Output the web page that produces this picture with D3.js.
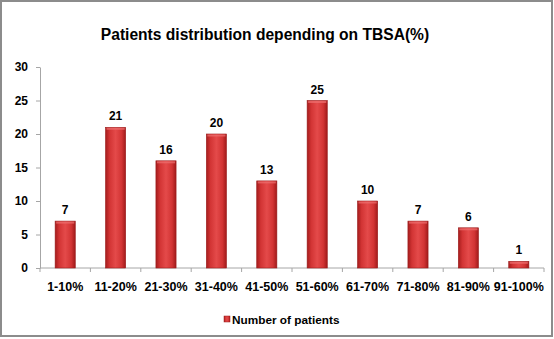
<!DOCTYPE html>
<html>
<head>
<meta charset="utf-8">
<script src="https://cdn.jsdelivr.net/npm/d3@7"></script>
<style>
  body { margin: 0; background: #fff; }
  svg { font-family: "Liberation Sans", Arial, sans-serif; }
  .axis text { font-weight: bold; font-size: 12.5px; fill: #000; }
  .axis path, .axis line { stroke: #a6a6a6; }
</style>
</head>
<body>
<svg id="chart" width="554" height="339"></svg>
<script>
// data
const categories = ["1-10%", "11-20%", "21-30%", "31-40%", "41-50%", "51-60%", "61-70%", "71-80%", "81-90%", "91-100%"];
const patients = [7, 21, 16, 20, 13, 25, 10, 7, 6, 1];
const yTicks = [0, 5, 10, 15, 20, 25, 30];
const seriesName = "Number of patients";
const chartTitle = "Patients distribution depending on TBSA(%)";

const svg = d3.select("#chart");
const W = 554, H = 339;
const margin = {top: 67, right: 10, bottom: 71, left: 40};

// outer frame
svg.append("rect")
  .attr("x", 1).attr("y", 1).attr("width", W - 3).attr("height", H - 4)
  .attr("fill", "#fff").attr("stroke", "#8c8c8c").attr("stroke-width", 2);

// gradient for the bars
const defs = svg.append("defs");
const grad = defs.append("linearGradient").attr("id", "barGrad")
  .attr("x1", "0%").attr("x2", "100%").attr("y1", "0%").attr("y2", "0%");
grad.append("stop").attr("offset", "0%").attr("stop-color", "#a51c1c");
grad.append("stop").attr("offset", "20%").attr("stop-color", "#d23434");
grad.append("stop").attr("offset", "50%").attr("stop-color", "#e44a4a");
grad.append("stop").attr("offset", "80%").attr("stop-color", "#d23434");
grad.append("stop").attr("offset", "100%").attr("stop-color", "#a01a1a");

svg.append("text")
  .attr("x", 265).attr("y", 40)
  .attr("text-anchor", "middle")
  .attr("font-size", "15.6px").attr("font-weight", "bold")
  .text(chartTitle);

const x = d3.scaleBand().domain(categories)
  .range([margin.left, W - margin.right]).paddingInner(0.6).paddingOuter(0.3);
const y = d3.scaleLinear().domain([0, 30]).range([H - margin.bottom, margin.top]);

// axes
const xAxis = svg.append("g").attr("class", "axis")
  .attr("transform", `translate(0,${H - margin.bottom})`)
  .call(d3.axisBottom(x).tickSize(0).tickPadding(14));
xAxis.select(".domain").attr("d", `M${margin.left},0H${W - margin.right}`);

// category boundary ticks
const bounds = d3.range(categories.length + 1).map(i => margin.left + i * (W - margin.left - margin.right) / categories.length);
xAxis.selectAll(".bound").data(bounds).enter().append("line")
  .attr("x1", d => d).attr("x2", d => d).attr("y1", 0).attr("y2", 4)
  .attr("stroke", "#a6a6a6");

const yAxis = svg.append("g").attr("class", "axis")
  .attr("transform", `translate(${margin.left},0)`)
  .call(d3.axisLeft(y).tickValues(yTicks).tickSize(4).tickPadding(8).tickSizeOuter(0));
yAxis.selectAll("text").style("font-size", "12px");

// bars
const bars = svg.append("g").selectAll("g").data(patients).enter().append("g");
bars.append("rect")
  .attr("x", (d, i) => x(categories[i]))
  .attr("y", d => y(d))
  .attr("width", x.bandwidth())
  .attr("height", d => y(0) - y(d))
  .attr("fill", "url(#barGrad)")
  .attr("stroke", "#9a1c1c").attr("stroke-width", 0.6);
bars.append("rect")
  .attr("x", (d, i) => x(categories[i]) + 1)
  .attr("y", d => y(d) + 0.5)
  .attr("width", x.bandwidth() - 2)
  .attr("height", 2)
  .attr("fill", "#ee7070").attr("opacity", 0.7);

// value labels
bars.append("text")
  .attr("x", (d, i) => x(categories[i]) + x.bandwidth() / 2)
  .attr("y", d => y(d) - 7)
  .attr("text-anchor", "middle")
  .attr("font-size", "12px").attr("font-weight", "bold")
  .text(d => d);

// legend
const legend = svg.append("g").attr("transform", "translate(224,324)");
legend.append("rect").attr("x", 0).attr("y", -8).attr("width", 6).attr("height", 6)
  .attr("fill", "url(#barGrad)").attr("stroke", "#9a1c1c").attr("stroke-width", 0.5);
legend.append("text").attr("x", 8).attr("y", 0)
  .attr("font-size", "11.8px").attr("font-weight", "bold")
  .text(seriesName);
</script>
</body>
</html>
